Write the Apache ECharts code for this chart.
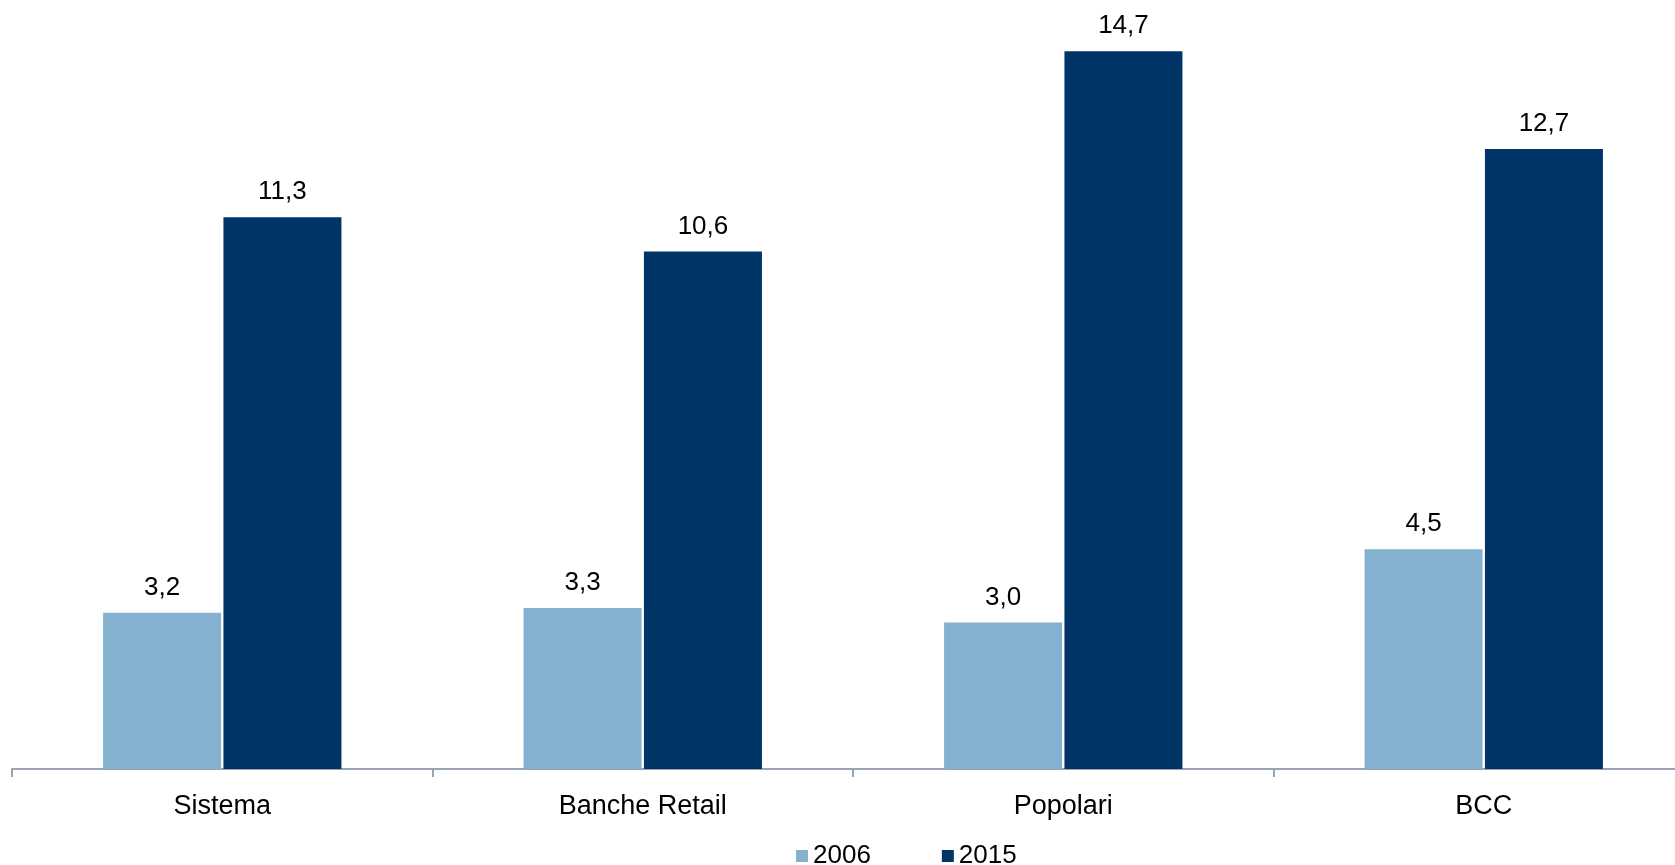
<!DOCTYPE html>
<html>
<head>
<meta charset="utf-8">
<script src="https://cdn.jsdelivr.net/npm/echarts@6/dist/echarts.min.js"></script>
<style>
html,body{margin:0;padding:0;background:#fff;}
#chart{width:1675px;height:865px;}
</style>
</head>
<body>
<div id="chart"></div>
<script>
const categories = ['Sistema', 'Banche Retail', 'Popolari', 'BCC'];
const seriesNames = ['2006', '2015'];
const values2006 = [3.2, 3.3, 3.0, 4.5];
const values2015 = [11.3, 10.6, 14.7, 12.7];

const FONT = 'Liberation Sans';
const fmt = p => p.value.toFixed(1).replace('.', ',');

const chart = echarts.init(document.getElementById('chart'));
chart.setOption({
  animation: false,
  backgroundColor: '#ffffff',
  grid: { left: 12, width: 1682, top: 0, height: 769, containLabel: false, outerBoundsMode: 'none' },
  legend: {
    left: 791, top: 838,
    itemWidth: 12, itemHeight: 12, itemGap: 71,
    icon: 'rect',
    textStyle: { fontFamily: FONT, fontSize: 26, color: '#000' },
    data: seriesNames
  },
  xAxis: {
    type: 'category',
    data: categories,
    axisLine: { lineStyle: { color: '#9aa3b5', width: 2 } },
    axisTick: { show: true, length: 8, lineStyle: { color: '#9aa3b5', width: 2 } },
    axisLabel: { fontFamily: FONT, fontSize: 27, color: '#000', margin: 24 }
  },
  yAxis: {
    type: 'value', min: 0, max: 15.75, show: false,
    splitLine: { show: false }
  },
  series: [
    {
      name: seriesNames[0], type: 'bar', data: values2006,
      barWidth: 118, barGap: '2%',
      itemStyle: { color: '#84b1cf' },
      label: { show: true, position: 'top', distance: 12, formatter: fmt,
        fontFamily: FONT, fontSize: 26, color: '#000' }
    },
    {
      name: seriesNames[1], type: 'bar', data: values2015,
      barWidth: 118, barGap: '2%',
      itemStyle: { color: '#003466' },
      label: { show: true, position: 'top', distance: 12, formatter: fmt,
        fontFamily: FONT, fontSize: 26, color: '#000' }
    }
  ]
});
</script>
</body>
</html>
